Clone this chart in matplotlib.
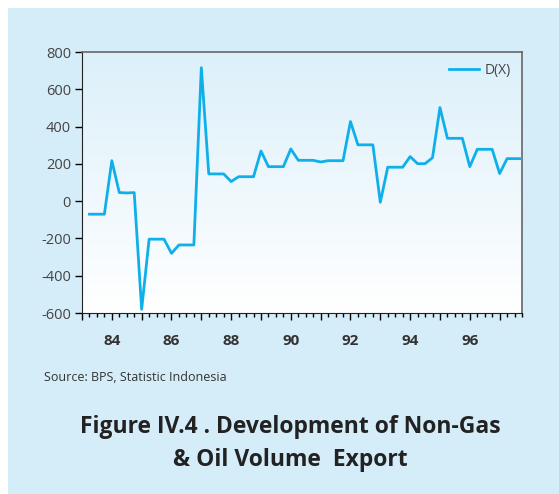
import numpy as np
from matplotlib import pyplot as plt
from matplotlib.ticker import MultipleLocator
from matplotlib.patches import Rectangle
import matplotlib as mpl

mpl.rcParams['font.family'] = ['Open Sans', 'DejaVu Sans']

# quarterly series, first point at 83.25
x_start = 83.25
dx_values = [-70, -70, -70, 217, 46, 44, 46, -580, -204, -204, -204, -280,
             -235, -235, -235, 716, 146, 146, 146, 105, 131, 131, 131, 269,
             185, 185, 185, 280, 219, 219, 219, 210, 217, 217, 217, 427,
             302, 302, 302, -6, 182, 182, 182, 239, 201, 201, 233, 502,
             337, 337, 337, 185, 278, 278, 278, 148, 228, 228, 228]
year_ticks = [84, 86, 88, 90, 92, 94, 96]
y_ticks = [-600, -400, -200, 0, 200, 400, 600, 800]

x = x_start + 0.25 * np.arange(len(dx_values))

W, H = 559, 494
fig = plt.figure(figsize=(W / 100, H / 100), dpi=100)
fig.patch.set_facecolor('#d5ecf9')
# white margin on top and left
fig.patches.append(Rectangle((0, 1 - 8 / H), 1, 8 / H, transform=fig.transFigure,
                             facecolor='white', edgecolor='none', zorder=-10))
fig.patches.append(Rectangle((0, 0), 8 / W, 1, transform=fig.transFigure,
                             facecolor='white', edgecolor='none', zorder=-10))

ax1 = fig.add_axes([82 / W, 1 - 313 / H, 440 / W, 261 / H])
ax1.set_facecolor('none')
ax1.set_zorder(5)

# light blue to white gradient in the plot area
grad = np.linspace(0, 1, 256).reshape(-1, 1)
cmap = mpl.colors.LinearSegmentedColormap.from_list('bg', ['#ffffff', '#dcf0fa'])
ax1.imshow(grad, extent=[0, 1, 0, 1], transform=ax1.transAxes, aspect='auto',
           cmap=cmap, origin='lower', zorder=0)

ax1.plot(x, dx_values, color='#0fb0ea', linewidth=2.0, label='D(X)', zorder=3)

ax1.set_xlim(83, 97.75)
ax1.set_ylim(-600, 800)

ax1.xaxis.set_minor_locator(MultipleLocator(0.25))
ax1.set_xticks(range(83, 98))
ax1.set_xticklabels([str(v) if v in year_ticks else '' for v in range(83, 98)])
ax1.set_yticks(y_ticks)
ax1.set_yticklabels([str(v) for v in y_ticks])

ax1.tick_params(axis='x', which='major', direction='out', length=5, width=1,
                pad=10, labelsize=11, labelcolor='#333333')
ax1.tick_params(axis='x', which='minor', direction='out', length=3, width=1)
ax1.tick_params(axis='y', direction='out', length=5, width=1, pad=3,
                labelsize=10.5, labelcolor='#444444')
for lbl in ax1.get_xticklabels():
    lbl.set_fontweight('bold')

for side in ['left', 'bottom']:
    ax1.spines[side].set_color('#222222')
for side in ['top', 'right']:
    ax1.spines[side].set_color('#666666')
    ax1.spines[side].set_linewidth(1.2)

leg = ax1.legend(loc='upper right', frameon=False, fontsize=10, handlelength=2.2,
                 handletextpad=0.4, borderaxespad=0.4)
for t in leg.get_texts():
    t.set_color('#444444')

fig.text(44 / W, 1 - 377 / H, 'Source: BPS, Statistic Indonesia', fontsize=9,
         color='#333333', va='center', ha='left')
fig.text(290 / W, 1 - 427 / H, 'Figure IV.4 . Development of Non-Gas', fontsize=16.5,
         fontweight='bold', color='#222222', ha='center', va='center')
fig.text(290 / W, 1 - 460 / H, '& Oil Volume  Export', fontsize=16.5,
         fontweight='bold', color='#222222', ha='center', va='center')

plt.savefig('out.png', dpi=100, facecolor=fig.get_facecolor())
plt.close()
